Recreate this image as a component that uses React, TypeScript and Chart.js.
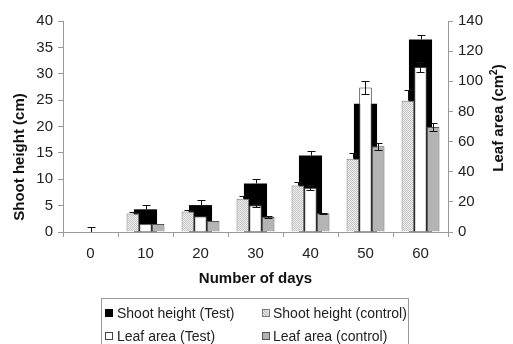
import React, { useEffect, useRef } from 'react';
import { Chart, registerables } from 'chart.js';

Chart.register(...registerables);

// ---- data ----
const days = ['0', '10', '20', '30', '40', '50', '60'];
const seriesNames = ['Shoot height (Test)', 'Shoot height (control)', 'Leaf area (Test)', 'Leaf area (control)'];
const shootTest = [0, 4.3, 5.1, 9.2, 14.5, 24.3, 36.5];
const shootTestErr = [1.0, 0.9, 0.9, 0.8, 0.8, 0.9, 0.8];
const shootControl = [null, 3.5, 3.9, 6.3, 8.8, 13.9, 24.9];
const shootControlErr = [0, 0.2, 0.2, 0.6, 0.6, 1.1, 2.1];
const leafTest = [null, 5.5, 10.4, 17.7, 29.4, 95.8, 109.5];
const leafTestErr = [0, 0, 0, 1.0, 1.8, 4.5, 3.4];
const leafControl = [null, 5.3, 7.3, 10.0, 12.4, 56.9, 69.6];
const leafControlErr = [0, 0, 0, 0.5, 0.5, 2.4, 2.7];
const leftMax = 40;
const leftStep = 5;
const rightMax = 140;
const rightStep = 20;
const xTitle = 'Number of days';
const leftTitle = 'Shoot height (cm)';
const rightTitleMain = 'Leaf area (cm';
const rightTitleSup = '2';
const rightTitleEnd = ')';

const FONT = '"Liberation Sans", Arial, sans-serif';

function makeHatch(): CanvasPattern | string {
  const c = document.createElement('canvas');
  c.width = 2;
  c.height = 2;
  const g = c.getContext('2d');
  if (!g) return '#dcdcdc';
  g.fillStyle = '#f0f0f0';
  g.fillRect(0, 0, 2, 2);
  g.fillStyle = '#c4c4c4';
  g.fillRect(0, 0, 1, 1);
  g.fillRect(1, 1, 1, 1);
  const p = g.createPattern(c, 'repeat');
  return p || '#dcdcdc';
}

const errorBarPlugin = {
  id: 'errbars',
  afterDatasetDraw(chart: any, args: any) {
    const ds = chart.data.datasets[args.index];
    const errs = ds.errors;
    if (!errs) return;
    const meta = args.meta;
    const yScale = chart.scales[meta.yAxisID];
    const ctx = chart.ctx;
    ctx.save();
    ctx.strokeStyle = '#111';
    ctx.lineWidth = 1;
    meta.data.forEach((bar: any, i: number) => {
      const v = ds.data[i];
      const e = errs[i];
      if (v == null || !e) return;
      const x = Math.round(bar.x) + 0.5;
      const yTop = Math.round(yScale.getPixelForValue(v + e)) + 0.5;
      const yBot = ds.errBoth
        ? Math.round(yScale.getPixelForValue(Math.max(0, v - e))) + 0.5
        : yScale.getPixelForValue(v);
      ctx.beginPath();
      ctx.moveTo(x, yBot);
      ctx.lineTo(x, yTop);
      ctx.moveTo(x - 4, yTop);
      ctx.lineTo(x + 4, yTop);
      if (ds.errBoth) {
        ctx.moveTo(x - 4, yBot);
        ctx.lineTo(x + 4, yBot);
      }
      ctx.stroke();
    });
    ctx.restore();
  },
};

const titlesPlugin = {
  id: 'titles',
  afterDraw(chart: any) {
    const ctx = chart.ctx;
    const a = chart.chartArea;
    ctx.save();
    ctx.fillStyle = '#111';
    ctx.font = `bold 15px ${FONT}`;
    ctx.textAlign = 'center';
    ctx.textBaseline = 'middle';
    ctx.fillText(xTitle, (a.left + a.right) / 2, 279);

    ctx.save();
    ctx.translate(20, 157);
    ctx.rotate(-Math.PI / 2);
    ctx.fillText(leftTitle, 0, 0);
    ctx.restore();

    ctx.save();
    ctx.translate(499, 118);
    ctx.rotate(-Math.PI / 2);
    ctx.textAlign = 'left';
    ctx.font = `bold 15px ${FONT}`;
    const w1 = ctx.measureText(rightTitleMain).width;
    const w3 = ctx.measureText(rightTitleEnd).width;
    ctx.font = `bold 10px ${FONT}`;
    const w2 = ctx.measureText(rightTitleSup).width;
    let x = -(w1 + w2 + w3) / 2;
    ctx.font = `bold 15px ${FONT}`;
    ctx.fillText(rightTitleMain, x, 0);
    x += w1;
    ctx.font = `bold 10px ${FONT}`;
    ctx.fillText(rightTitleSup, x, -5);
    x += w2;
    ctx.font = `bold 15px ${FONT}`;
    ctx.fillText(rightTitleEnd, x, 0);
    ctx.restore();

    ctx.restore();
  },
};

const legendStyles = [
  { background: '#000', border: '1px solid #000' },
  { background: 'repeating-linear-gradient(45deg,#c4c4c4 0 1px,#f0f0f0 1px 2px)', border: '1px solid #777' },
  { background: '#fff', border: '1px solid #444' },
  { background: '#b4b4b4', border: '1px solid #555' },
];

export default function App() {
  const ref = useRef<HTMLCanvasElement | null>(null);

  useEffect(() => {
    if (!ref.current) return;
    const hatch = makeHatch();
    const chart = new Chart(ref.current, {
      type: 'bar',
      data: {
        labels: days,
        datasets: [
          {
            label: seriesNames[1],
            data: shootControl,
            yAxisID: 'y',
            backgroundColor: hatch as any,
            borderColor: '#777',
            borderWidth: 1,
            categoryPercentage: 0.69,
            barPercentage: 1,
            errors: shootControlErr,
            errBoth: false,
          } as any,
          {
            label: seriesNames[2],
            data: leafTest,
            yAxisID: 'y1',
            backgroundColor: '#ffffff',
            borderColor: '#444',
            borderWidth: 1,
            categoryPercentage: 0.69,
            barPercentage: 1,
            errors: leafTestErr,
            errBoth: true,
          } as any,
          {
            label: seriesNames[3],
            data: leafControl,
            yAxisID: 'y1',
            backgroundColor: '#b4b4b4',
            borderColor: '#555',
            borderWidth: 1,
            categoryPercentage: 0.69,
            barPercentage: 1,
            errors: leafControlErr,
            errBoth: true,
          } as any,
          {
            label: seriesNames[0],
            data: shootTest,
            yAxisID: 'y',
            backgroundColor: '#000000',
            borderWidth: 0,
            grouped: false,
            categoryPercentage: 1,
            barPercentage: 0.42,
            errors: shootTestErr,
            errBoth: false,
          } as any,
        ],
      },
      options: {
        animation: false,
        responsive: false,
        maintainAspectRatio: false,
        layout: { padding: { top: 21, left: 0, right: 0, bottom: 0 } },
        plugins: {
          legend: { display: false },
          tooltip: { enabled: false },
        },
        scales: {
          x: {
            type: 'category',
            grid: {
              display: true,
              drawOnChartArea: false,
              drawTicks: true,
              tickLength: 5,
              color: '#999',
              offset: true,
            },
            border: { display: true, color: '#999' },
            ticks: {
              color: '#222',
              font: { size: 15, family: FONT },
              padding: 8,
              maxRotation: 0,
            },
            afterFit: (s: any) => {
              s.height = 112;
            },
          },
          y: {
            position: 'left',
            min: 0,
            max: leftMax,
            grid: { drawOnChartArea: false, drawTicks: true, tickLength: 5, color: '#999' },
            border: { display: true, color: '#999' },
            ticks: {
              stepSize: leftStep,
              color: '#222',
              font: { size: 15, family: FONT },
              padding: 5,
            },
            afterFit: (s: any) => {
              s.width = 63;
            },
          },
          y1: {
            position: 'right',
            min: 0,
            max: rightMax,
            grid: { drawOnChartArea: false, drawTicks: true, tickLength: 5, color: '#999' },
            border: { display: true, color: '#999' },
            ticks: {
              stepSize: rightStep,
              color: '#222',
              font: { size: 15, family: FONT },
              padding: 5,
            },
            afterFit: (s: any) => {
              s.width = 65;
            },
          },
        },
      } as any,
      plugins: [errorBarPlugin, titlesPlugin],
    });
    return () => chart.destroy();
  }, []);

  const order = [0, 1, 2, 3];
  return (
    <div
      style={{
        position: 'fixed',
        left: 0,
        top: 0,
        width: 513,
        height: 344,
        overflow: 'hidden',
        background: '#fff',
        fontFamily: FONT,
      }}
    >
      <canvas ref={ref} width={513} height={344} style={{ display: 'block', width: 513, height: 344 }} />
      <div
        style={{
          position: 'absolute',
          left: 101,
          top: 298,
          width: 308,
          height: 70,
          border: '1px solid #999',
          boxSizing: 'border-box',
        }}
      />
      {order.map((i) => {
        const col = i % 2;
        const row = Math.floor(i / 2);
        const markerX = col === 0 ? 105 : 262;
        const textX = col === 0 ? 117 : 273;
        const cy = row === 0 ? 313 : 336;
        return (
          <React.Fragment key={i}>
            <div
              style={{
                position: 'absolute',
                left: markerX,
                top: cy - 4,
                width: 8,
                height: 8,
                boxSizing: 'border-box',
                ...legendStyles[i],
              }}
            />
            <div
              style={{
                position: 'absolute',
                left: textX,
                top: cy - 9,
                height: 18,
                lineHeight: '18px',
                fontSize: 14,
                color: '#222',
                whiteSpace: 'nowrap',
              }}
            >
              {seriesNames[i]}
            </div>
          </React.Fragment>
        );
      })}
    </div>
  );
}
